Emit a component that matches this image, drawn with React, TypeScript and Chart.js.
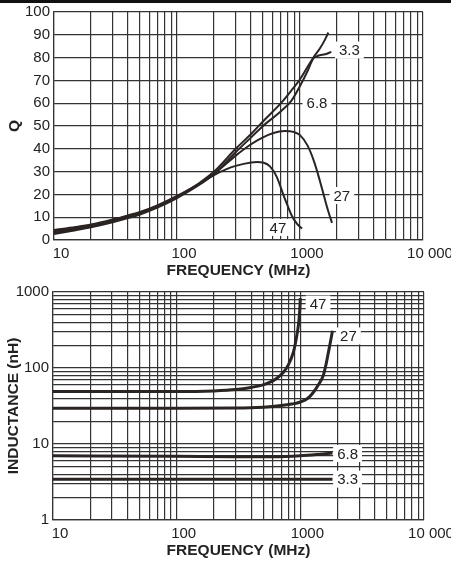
import React, { useEffect, useRef } from "react";
import { Chart, registerables } from "chart.js";

Chart.register(...registerables);

// ---------- Q vs frequency (top chart) ----------
const qFreq_3_3 = [10, 15, 20, 30, 40, 50, 70, 100, 150, 200, 300, 400, 500, 700, 850, 1000, 1150, 1280, 1400, 1600, 1800];
const qVal_3_3 = [2.6, 4.3, 5.6, 7.8, 9.6, 11.2, 14.3, 18.4, 24, 29, 38.5, 45, 50, 56.5, 61, 67.5, 74, 79.5, 80.8, 81.5, 82.5];

const qFreq_6_8 = [10, 15, 20, 30, 40, 50, 70, 100, 150, 200, 300, 400, 500, 700, 850, 1000, 1200, 1300, 1450, 1600, 1700];
const qVal_6_8 = [3.2, 4.8, 6.1, 8.3, 10.1, 11.7, 14.8, 19, 24.8, 30, 40, 46.5, 52, 60, 65.5, 70.5, 77.5, 80.5, 84, 88, 91];

const qFreq_27 = [10, 15, 20, 30, 40, 50, 70, 100, 150, 200, 300, 400, 500, 600, 750, 900, 1000, 1150, 1300, 1450, 1600, 1700, 1820];
const qVal_27 = [3.8, 5.2, 6.4, 8.6, 10.4, 12, 15, 19, 24.5, 29, 37, 42, 45, 46.8, 47.8, 47.3, 46, 41.5, 34.5, 26, 17.5, 12.5, 7.5];

const qFreq_47 = [10, 15, 20, 30, 40, 50, 70, 100, 150, 200, 250, 300, 400, 450, 500, 570, 650, 730, 800, 860, 950, 1040];
const qVal_47 = [4.4, 5.7, 6.8, 9, 10.8, 12.3, 15.3, 19.3, 24.5, 28.5, 31, 32.5, 34, 34.2, 34, 32.3, 27.5, 20, 14.5, 10.5, 7, 5];

// ---------- Inductance vs frequency (bottom chart) ----------
const lFreq_47 = [10, 100, 200, 300, 400, 500, 570, 650, 730, 800, 880, 930, 965, 985, 1000];
const lVal_47 = [49, 49, 50, 52, 55.5, 60, 65, 74, 88, 110, 163, 250, 366, 520, 830];

const lFreq_27 = [10, 100, 300, 500, 700, 850, 1000, 1150, 1277, 1400, 1538, 1620, 1690, 1760, 1820];
const lVal_27 = [29.5, 29.5, 29.7, 30.5, 32, 33.5, 35.7, 40, 48, 60, 81, 115, 163, 230, 310];

const lFreq_6_8 = [10, 100, 300, 600, 1000, 1400, 1820];
const lVal_6_8 = [7.0, 6.9, 6.8, 6.8, 7.0, 7.3, 7.6];

const lFreq_3_3 = [10, 100, 1000, 1820];
const lVal_3_3 = [3.45, 3.45, 3.45, 3.45];

// ---------- axis ticks ----------
const freqGridTicks = [
  10, 20, 30, 40, 50, 60, 70, 80, 90,
  100, 200, 300, 400, 500, 600, 700, 800, 900,
  1000, 2000, 3000, 4000, 5000, 6000, 7000, 8000, 9000, 10000,
];
const freqLabelValues = [10, 100, 1000, 10000];
const freqLabelTexts = ["10", "100", "1000", "10 000"];

const inductanceGridTicks = [
  1, 2, 3, 4, 5, 6, 7, 8, 9,
  10, 20, 30, 40, 50, 60, 70, 80, 90,
  100, 200, 300, 400, 500, 600, 700, 800, 900, 1000,
];
const inductanceLabelValues = [1, 10, 100, 1000];
const inductanceLabelTexts = ["1", "10", "100", "1000"];

// ---------- curve labels (in data units) ----------
const qCurveLabels = ["3.3", "6.8", "27", "47"];
const qLabelFreq = [2520, 1374, 2190, 662];
const qLabelQ = [83.3, 60.3, 19.5, 5.5];

const lCurveLabels = ["47", "27", "6.8", "3.3"];
const lLabelFreq = [1390, 2450, 2410, 2410];
const lLabelL = [695, 264, 7.5, 3.45];

// ---------- styles ----------
const FONT = "'Liberation Sans', Arial, Helvetica, sans-serif";
const textColor = "#222222";
const gridColor = "#333333";
const gridWidth = 1.2;
const curveColor = "#2a2422";

const toPoints = (xs: number[], ys: number[]) => xs.map((x, i) => ({ x, y: ys[i] }));

function labelPlugin(texts: string[], xs: number[], ys: number[]) {
  return {
    id: "curveLabels",
    afterDatasetsDraw(chart: any) {
      const { ctx, scales } = chart;
      ctx.save();
      ctx.font = `15px ${FONT}`;
      ctx.textAlign = "center";
      ctx.textBaseline = "middle";
      texts.forEach((t, i) => {
        const px = scales.x.getPixelForValue(xs[i]);
        const py = scales.y.getPixelForValue(ys[i]);
        const w = ctx.measureText(t).width + 8;
        const h = 17;
        ctx.fillStyle = "#ffffff";
        ctx.fillRect(px - w / 2, py - h / 2, w, h);
        ctx.fillStyle = textColor;
        ctx.fillText(t, px, py + 1);
      });
      ctx.restore();
    },
  };
}

function freqAxis(axisHeight: number, titlePadBottom: number) {
  return {
    type: "logarithmic",
    min: 10,
    max: 10000,
    afterBuildTicks: (s: any) => {
      s.ticks = freqGridTicks.map((v) => ({ value: v }));
    },
    afterFit: (s: any) => {
      s.height = axisHeight;
      s.paddingLeft = 0;
      s.paddingRight = 0;
    },
    ticks: {
      autoSkip: false,
      maxRotation: 0,
      minRotation: 0,
      padding: 5,
      labelOffset: 7,
      color: textColor,
      font: { family: FONT, size: 15 },
      callback: (v: number) => {
        const i = freqLabelValues.indexOf(Math.round(v));
        return i >= 0 ? freqLabelTexts[i] : "";
      },
    },
    grid: { color: gridColor, lineWidth: gridWidth, drawTicks: false },
    border: { color: gridColor, width: gridWidth },
    title: {
      display: true,
      text: "FREQUENCY (MHz)",
      color: textColor,
      font: { family: FONT, size: 15.5, weight: "bold" },
      padding: { top: 0, bottom: titlePadBottom },
    },
  };
}

function lineDataset(xs: number[], ys: number[], width: number) {
  return {
    data: toPoints(xs, ys),
    borderColor: curveColor,
    borderWidth: width,
    pointRadius: 0,
    fill: false,
    cubicInterpolationMode: "monotone",
  };
}

function QChart() {
  const ref = useRef<HTMLCanvasElement | null>(null);
  useEffect(() => {
    if (!ref.current) return;
    const chart = new Chart(ref.current, {
      type: "line",
      data: {
        datasets: [
          lineDataset(qFreq_3_3, qVal_3_3, 2),
          lineDataset(qFreq_6_8, qVal_6_8, 2),
          lineDataset(qFreq_27, qVal_27, 2),
          lineDataset(qFreq_47, qVal_47, 2),
        ],
      } as any,
      options: {
        responsive: false,
        maintainAspectRatio: false,
        animation: false,
        layout: { padding: { left: 0, right: 28, top: 12, bottom: 0 } },
        plugins: { legend: { display: false }, tooltip: { enabled: false } },
        scales: {
          x: freqAxis(40, 0),
          y: {
            type: "linear",
            min: 0,
            max: 100,
            afterFit: (s: any) => {
              s.width = 54;
              s.paddingTop = 0;
              s.paddingBottom = 0;
            },
            ticks: {
              stepSize: 10,
              padding: 4,
              color: textColor,
              font: { family: FONT, size: 15 },
            },
            grid: { color: gridColor, lineWidth: gridWidth, drawTicks: false },
            border: { color: gridColor, width: gridWidth },
            title: {
              display: true,
              text: "Q",
              color: textColor,
              font: { family: FONT, size: 15.5, weight: "bold" },
              padding: { top: 5, bottom: 0 },
            },
          },
        } as any,
      },
      plugins: [labelPlugin(qCurveLabels, qLabelFreq, qLabelQ)],
    });
    return () => chart.destroy();
  }, []);
  return <canvas ref={ref} width={451} height={280} style={{ display: "block", position: "absolute", left: 0, top: 0 }} />;
}

function LChart() {
  const ref = useRef<HTMLCanvasElement | null>(null);
  useEffect(() => {
    if (!ref.current) return;
    const chart = new Chart(ref.current, {
      type: "line",
      data: {
        datasets: [
          lineDataset(lFreq_47, lVal_47, 3),
          lineDataset(lFreq_27, lVal_27, 3),
          lineDataset(lFreq_6_8, lVal_6_8, 3),
          lineDataset(lFreq_3_3, lVal_3_3, 3),
        ],
      } as any,
      options: {
        responsive: false,
        maintainAspectRatio: false,
        animation: false,
        layout: { padding: { left: 0, right: 27, top: 12, bottom: 0 } },
        plugins: { legend: { display: false }, tooltip: { enabled: false } },
        scales: {
          x: freqAxis(43, 3),
          y: {
            type: "logarithmic",
            min: 1,
            max: 1000,
            afterBuildTicks: (s: any) => {
              s.ticks = inductanceGridTicks.map((v) => ({ value: v }));
            },
            afterFit: (s: any) => {
              s.width = 53;
              s.paddingTop = 0;
              s.paddingBottom = 0;
            },
            ticks: {
              autoSkip: false,
              padding: 4,
              color: textColor,
              font: { family: FONT, size: 15 },
              callback: (v: number) => {
                const i = inductanceLabelValues.indexOf(Math.round(v));
                return i >= 0 ? inductanceLabelTexts[i] : "";
              },
            },
            grid: { color: gridColor, lineWidth: gridWidth, drawTicks: false },
            border: { color: gridColor, width: gridWidth },
            title: {
              display: true,
              text: "INDUCTANCE (nH)",
              color: textColor,
              font: { family: FONT, size: 15.5, weight: "bold" },
              padding: { top: 4, bottom: 0 },
            },
          },
        } as any,
      },
      plugins: [labelPlugin(lCurveLabels, lLabelFreq, lLabelL)],
    });
    return () => chart.destroy();
  }, []);
  return <canvas ref={ref} width={451} height={283} style={{ display: "block", position: "absolute", left: 0, top: 280 }} />;
}

export default function App() {
  if (typeof document !== "undefined") {
    document.body.style.margin = "0";
    document.body.style.background = "#ffffff";
  }
  return (
    <div style={{ position: "relative", width: 451, height: 563, background: "#ffffff", overflow: "hidden" }}>
      <QChart />
      <LChart />
      <div style={{ position: "absolute", left: 0, top: 0, width: 451, height: 3, background: "#111111" }} />
    </div>
  );
}
